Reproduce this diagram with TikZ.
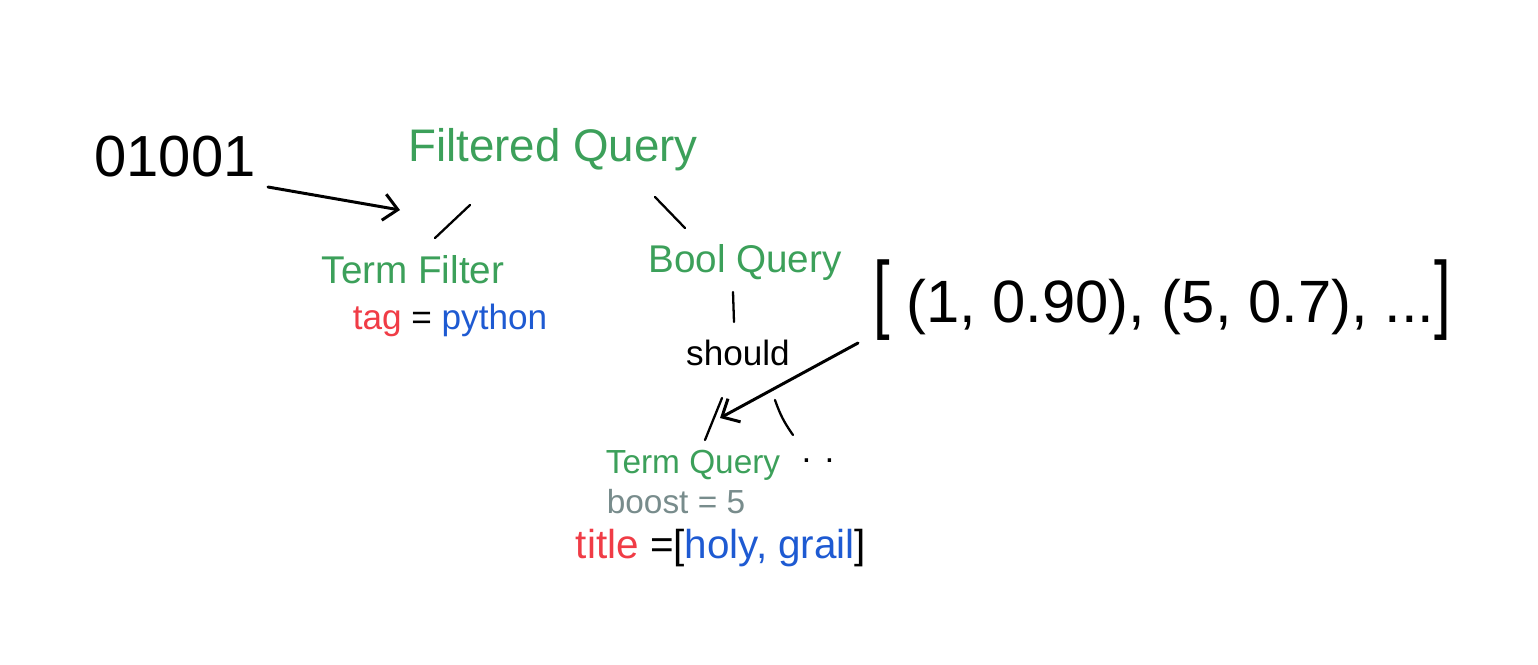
\documentclass[tikz,border=0pt]{standalone}
\usepackage{fontspec}
\setmainfont{Liberation Sans}
\usetikzlibrary{arrows.meta,calc}

\definecolor{qgreen}{RGB}{60,160,90}
\definecolor{keyred}{RGB}{240,60,70}
\definecolor{valblue}{RGB}{30,90,210}
\definecolor{boostgray}{RGB}{120,140,140}

\begin{document}
\begin{tikzpicture}[
        x=0.02cm, y=-0.02cm,
        txt/.style={inner sep=1pt, font=\fontsize{20}{24}\selectfont},
        qtxt/.style={txt, text=qgreen},
        branch/.style={draw, line width=1.3pt, line cap=round},
        arrow/.style={draw, line width=1.7pt, line cap=round, -{Straight Barb[length=8pt,width=15pt,line width=1.7pt]}}
    ]
        \useasboundingbox (0,0) rectangle (1538,664);

        % Input bitset and query tree
        \node (bits) [txt, font=\fontsize{33}{40}\selectfont] at (175,157) {01001};
        \node (fq) [qtxt, font=\fontsize{26}{30}\selectfont] at (553,150) {Filtered Query};
        \node (tf) [qtxt, font=\fontsize{22}{26}\selectfont] at (413,270) {Term Filter};
        \node (tfarg) [txt] at (450,320) {\textcolor{keyred}{tag} = \textcolor{valblue}{python}};
        \node (bq) [qtxt, font=\fontsize{22}{26}\selectfont] at (745,262) {Bool Query};
        \node (should) [txt] at (738,353) {should};

        % Term query leaf
        \node (tq) [qtxt, font=\fontsize{19}{23}\selectfont] at (693,465) {Term Query};
        \node (more) [txt] at (818,461) {. .};
        \node (boost) [txt, text=boostgray, font=\fontsize{19}{23}\selectfont] at (676,502) {boost = 5};
        \node (title) [txt, font=\fontsize{23}{27}\selectfont] at (721,548) {\textcolor{keyred}{title} =[\textcolor{valblue}{holy, grail}]};

        % Score list
        \node (scores) [txt, font=\fontsize{34}{40}\selectfont] at (1162,300) {\scalebox{1}[1.45]{[} (1, 0.90), (5, 0.7), ...\scalebox{1}[1.45]{]}};
        \coordinate (hit) at ([shift={(27,-47)}]tq.center);

        % Connections
        \draw [arrow] ([shift={(93,30)}]bits.center) -- ([shift={(-153,60)}]fq.center);
        \draw [branch] ([shift={(-83,55)}]fq.center) -- ([shift={(22,-32)}]tf.center);
        \draw [branch] ([shift={(102,47)}]fq.center) -- ([shift={(-60,-34)}]bq.center);
        \draw [branch] ([shift={(-12,30)}]bq.center) -- ([shift={(-4,-31)}]should.center);
        \draw [branch] ([shift={(-16,45)}]should.center) -- ([shift={(12,-25)}]tq.center);
        \draw [branch] ([shift={(37,47)}]should.center) to[bend right=8] ([shift={(-25,-26)}]more.center);
        \draw [arrow] ([shift={(-304,43)}]scores.center) -- (hit);

    \end{tikzpicture}
\end{document}
